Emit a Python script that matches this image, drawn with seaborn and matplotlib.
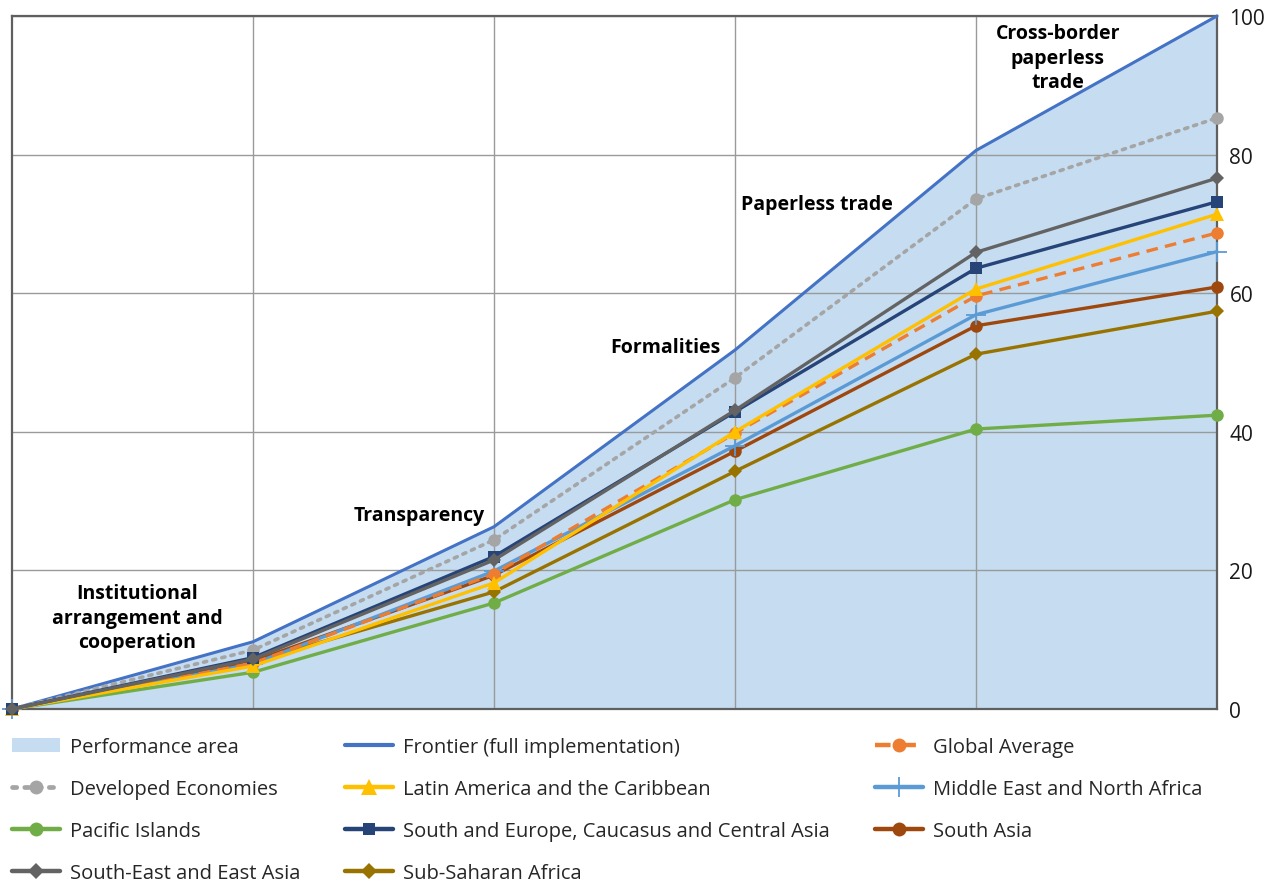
import matplotlib
matplotlib.use("Agg")
import matplotlib.pyplot as plt
import seaborn as sns
import numpy as np
from matplotlib.patches import Patch
from matplotlib.lines import Line2D

# Cumulative implementation scores along the five reform groups
stages = [0, 1, 2, 3, 4, 5]
stage_labels = [
    "Institutional\narrangement and\ncooperation",
    "Transparency",
    "Formalities",
    "Paperless trade",
    "Cross-border\npaperless\ntrade",
]

frontier = [0, 9.7, 26.3, 51.8, 80.6, 100]
developed = [0, 8.5, 24.4, 47.8, 73.6, 85.3]
global_avg = [0, 6.6, 19.5, 39.8, 59.6, 68.7]
latin_america = [0, 6.2, 18.2, 40.0, 60.6, 71.4]
middle_east = [0, 6.5, 19.9, 38.0, 56.9, 66.0]
pacific = [0, 5.3, 15.3, 30.2, 40.4, 42.4]
south_europe_caucasus = [0, 7.4, 22.0, 42.9, 63.6, 73.2]
south_asia = [0, 6.9, 19.3, 37.2, 55.3, 60.9]
se_east_asia = [0, 7.2, 21.5, 43.1, 65.9, 76.6]
sub_saharan = [0, 6.8, 16.9, 34.3, 51.2, 57.4]

yticks = [0, 20, 40, 60, 80, 100]

sns.set_theme(style="white")
plt.rcParams["font.family"] = ["Open Sans", "DejaVu Sans"]

fig = plt.figure(figsize=(12.77, 8.87), dpi=100)
ax = fig.add_axes([12 / 1277, 1 - 710 / 887, (1217 - 12) / 1277, (710 - 17) / 887])

# Shaded performance area below the frontier
ax.fill_between(stages, 0, frontier, color="#C5DCF1", linewidth=0, zorder=1)

series = [
    ("Frontier (full implementation)", frontier, dict(color="#4472C4", marker=None, linestyle="-", lw=2.2)),
    ("Developed Economies", developed, dict(color="#A5A5A5", marker="o", linestyle=(0, (0.9, 1.7)), lw=2.6, ms=9)),
    ("Pacific Islands", pacific, dict(color="#70AD47", marker="o", linestyle="-", lw=2.4, ms=9)),
    ("Sub-Saharan Africa", sub_saharan, dict(color="#997300", marker="D", linestyle="-", lw=2.4, ms=7)),
    ("South Asia", south_asia, dict(color="#9E480E", marker="o", linestyle="-", lw=2.4, ms=9)),
    ("Middle East and North Africa", middle_east, dict(color="#5B9BD5", marker="+", linestyle="-", lw=2.4, ms=14, mew=1.3)),
    ("Global Average", global_avg, dict(color="#ED7D31", marker="o", linestyle=(0, (3.5, 2.2)), lw=2.4, ms=9)),
    ("Latin America and the Caribbean", latin_america, dict(color="#FFC000", marker="^", linestyle="-", lw=2.4, ms=10)),
    ("South and Europe, Caucasus and Central Asia", south_europe_caucasus, dict(color="#264478", marker="s", linestyle="-", lw=2.4, ms=8)),
    ("South-East and East Asia", se_east_asia, dict(color="#636363", marker="D", linestyle="-", lw=2.4, ms=7)),
]

handles = {}
for name, values, st in series:
    n_before = len(ax.lines)
    sns.lineplot(x=stages, y=values, ax=ax, color=st["color"], marker=st["marker"],
                 linewidth=st["lw"], markersize=st.get("ms", 0),
                 markeredgewidth=st.get("mew", 0), markeredgecolor=st["color"],
                 label=name, legend=False, zorder=3, clip_on=False)
    line = ax.lines[n_before]
    line.set_linestyle(st["linestyle"])
    if name == "Developed Economies":
        line.set_dash_capstyle("round")
    # slightly heavier key for the legend
    handles[name] = Line2D([], [], color=st["color"], marker=st["marker"],
                           linestyle=st["linestyle"], linewidth=st["lw"] + 0.8,
                           markersize=st.get("ms", 0) + 1,
                           markeredgewidth=st.get("mew", 0), markeredgecolor=st["color"],
                           dash_capstyle="round" if name == "Developed Economies" else "butt",
                           solid_capstyle="round")

handles["Performance area"] = Patch(facecolor="#C5DCF1", edgecolor="none")

ax.set_xlim(0, 5)
ax.set_ylim(0, 100)
ax.set_xticks([1, 2, 3, 4])
ax.set_xticklabels([])
ax.set_yticks(yticks)
ax.yaxis.tick_right()
ax.tick_params(axis="y", length=0, pad=9, labelsize=15, labelcolor="#1a1a1a")
ax.tick_params(axis="x", length=0)
ax.set_axisbelow("line")
ax.grid(True, color="#9a9a9a", linewidth=1.0)
for side in ["left", "right", "top", "bottom"]:
    ax.spines[side].set_visible(True)
    ax.spines[side].set_color("#5f5f5f")
    ax.spines[side].set_linewidth(1.6)
ax.set_xlabel("")
ax.set_ylabel("")

# Stage annotations
label_pos = [(0.52, 13.2), (1.69, 28.0), (2.71, 52.2), (3.34, 72.9), (4.34, 94.0)]
for text, (lx, ly) in zip(stage_labels, label_pos):
    ax.text(lx, ly, text, ha="center", va="center", fontsize=14, fontweight="bold",
            color="black", linespacing=1.32, zorder=4)

# Legend, filled column by column
order = [
    "Performance area", "Developed Economies", "Pacific Islands", "South-East and East Asia",
    "Frontier (full implementation)", "Latin America and the Caribbean",
    "South and Europe, Caucasus and Central Asia", "Sub-Saharan Africa",
    "Global Average", "Middle East and North Africa", "South Asia",
]
leg = fig.legend([handles[k] for k in order], order, ncol=3, loc="upper left",
                 bbox_to_anchor=(12 / 1277, 1 - 738 / 887), frameon=False,
                 fontsize=14.5, handlelength=2.4, handletextpad=0.5,
                 columnspacing=2.2, labelspacing=1.1, borderpad=0, borderaxespad=0)
for t in leg.get_texts():
    t.set_color("#262626")

fig.savefig("out.png", dpi=100)
